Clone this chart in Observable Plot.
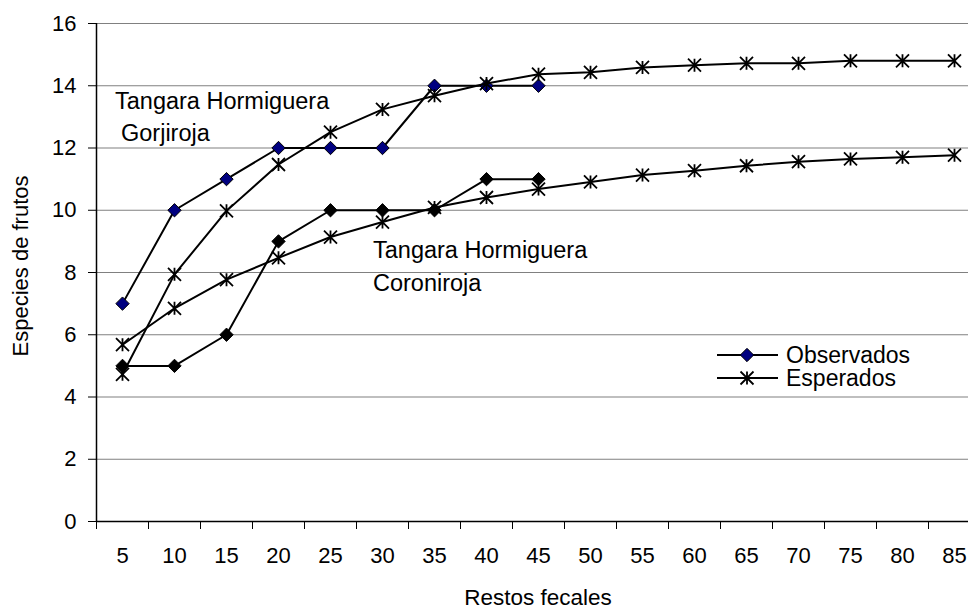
<!DOCTYPE html>
<html><head><meta charset="utf-8">
<script src="https://cdn.jsdelivr.net/npm/d3@7"></script>
<script src="https://cdn.jsdelivr.net/npm/@observablehq/plot@0.6"></script>
<style>
html,body{margin:0;padding:0;background:#fff;overflow:hidden;}
#chart{width:968px;height:611px;overflow:hidden;}
#chart svg{overflow:hidden;}
</style></head><body><div id="chart"></div>
<script>
// ---- data ----
const restos = [5,10,15,20,25,30,35,40,45,50,55,60,65,70,75,80,85];
const yTicks = [0,2,4,6,8,10,12,14,16];
const gorjObs = [7,10,11,12,12,12,14,14,14];
const gorjEsp = [4.73,7.94,9.98,11.47,12.51,13.24,13.68,14.07,14.37,14.43,14.59,14.66,14.72,14.72,14.8,14.8,14.8];
const coroObs = [5,5,6,9,10,10,10,11,11];
const coroEsp = [5.68,6.85,7.77,8.47,9.14,9.62,10.09,10.41,10.68,10.91,11.13,11.27,11.43,11.56,11.65,11.7,11.77];
const xLabel = "Restos fecales";
const yLabel = "Especies de frutos";
const legendLabels = ["Observados","Esperados"];
const annotations = [["Tangara Hormiguera","Gorjiroja"],["Tangara Hormiguera","Coroniroja"]];

const toRows = arr => arr.map((v,i)=>({x: restos[i], y: v}));
const step = restos[1]-restos[0];
const bounds = [...restos.map(r=>r-step/2), restos[restos.length-1]+step/2];

const star = {draw(ctx, size){
  const h = Math.sqrt(size/Math.PI);
  ctx.moveTo(0,-h); ctx.lineTo(0,h);
  ctx.moveTo(-h,-h); ctx.lineTo(h,h);
  ctx.moveTo(-h,h); ctx.lineTo(h,-h);
}};

const FONT = "Liberation Sans, Arial, Helvetica, sans-serif";
const series = [
  {rows: toRows(gorjObs), type:"obs", fill:"#000080"},
  {rows: toRows(gorjEsp), type:"esp"},
  {rows: toRows(coroObs), type:"obs", fill:"#000000"},
  {rows: toRows(coroEsp), type:"esp"}
];
const seriesMarks = series.flatMap(s => [
  Plot.line(s.rows, {x:"x", y:"y", stroke:"#000", strokeWidth:2}),
  s.type === "obs"
    ? Plot.dot(s.rows, {x:"x", y:"y", symbol:"diamond2", r:6, fill:s.fill, stroke:"#000", strokeWidth:1})
    : Plot.dot(s.rows, {x:"x", y:"y", symbol:star, r:6.5, fill:"none", stroke:"#000", strokeWidth:1.8})
]);

const plot = Plot.plot({
  width: 968, height: 611,
  marginLeft: 96, marginTop: 23, marginBottom: 90, marginRight: 0,
  style: {fontFamily: FONT, fontSize: "22px", color: "#000", background: "#fff"},
  x: {type:"linear", domain:[bounds[0], bounds[bounds.length-1]], range:[96, 980]},
  y: {type:"linear", domain:[0,16], range:[521, 23]},
  marks: [
    Plot.ruleY(yTicks.filter(d=>d>0), {stroke:"#808080", strokeWidth:1.2}),
    ...seriesMarks,
    Plot.ruleX([bounds[0]], {y1:0, y2:16, stroke:"#000", strokeWidth:1.5}),
    Plot.ruleY([0], {stroke:"#000", strokeWidth:1.5}),
    Plot.axisY({ticks: yTicks, tickSize: 8, tickPadding: 12, label: null, fontSize: 22, tickFormat: d => String(d)}),
    Plot.axisX({ticks: bounds, tickSize: 8, tickFormat: () => "", label: null}),
    Plot.axisX({ticks: restos, tickSize: 0, tickPadding: 26, label: null, fontSize: 22, tickFormat: d => String(d)})
  ]
});
document.getElementById("chart").appendChild(plot);

const svg = d3.select(plot);
const g = svg.append("g").attr("font-family", FONT).attr("fill", "#000").attr("text-anchor","start");
// axis titles
g.append("text").attr("x", 538).attr("y", 605).attr("text-anchor","middle").attr("font-size", 22.5).text(xLabel);
g.append("text").attr("transform","translate(28,266) rotate(-90)").attr("text-anchor","middle").attr("font-size", 22).text(yLabel);
// annotations
g.append("text").attr("x",115).attr("y",109).attr("font-size",23.5).text(annotations[0][0]);
g.append("text").attr("x",121).attr("y",141).attr("font-size",23.5).text(annotations[0][1]);
g.append("text").attr("x",373).attr("y",258).attr("font-size",23.5).text(annotations[1][0]);
g.append("text").attr("x",373).attr("y",291).attr("font-size",23.5).text(annotations[1][1]);
// legend
const lg = svg.append("g").attr("font-family", FONT).attr("text-anchor","start");
const legY = [355, 378];
legY.forEach((y,i)=>{
  lg.append("line").attr("x1",717).attr("x2",778).attr("y1",y).attr("y2",y).attr("stroke","#000").attr("stroke-width",2);
  const sym = i===0 ? d3.symbolDiamond2 : star;
  lg.append("path").attr("transform",`translate(747,${y})`)
    .attr("d", d3.symbol(sym, Math.PI*(i===0?6:6.5)**2)())
    .attr("fill", i===0 ? "#000080" : "none").attr("stroke","#000").attr("stroke-width", i===0?1:1.8);
  lg.append("text").attr("x",786).attr("y",y+8).attr("font-size",23).attr("fill","#000").text(legendLabels[i]);
});
</script></body></html>
